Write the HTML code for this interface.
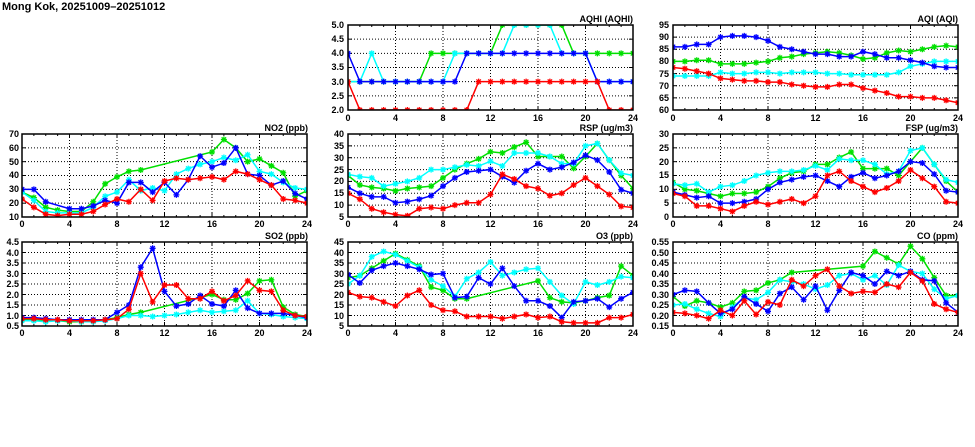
<!DOCTYPE html>
<html><head><meta charset="utf-8"><style>
body{margin:0;width:975px;height:447px;background:#fff;position:relative;overflow:hidden;font-family:"Liberation Sans",sans-serif;font-weight:bold;color:#000}
svg{position:absolute;left:0;top:0}
.t{position:absolute;font-size:11px;white-space:nowrap}
.pt{position:absolute;font-size:9px;white-space:nowrap;text-align:right}
.yl{position:absolute;display:flex;flex-direction:column;justify-content:space-between;width:30px;font-size:9px;text-align:right}
.yl span{height:10px;line-height:10px;display:block}
.xl{position:absolute;display:flex;justify-content:space-between;font-size:9px;height:10px}
.xl span{width:20px;text-align:center;line-height:10px}
</style></head><body>
<div class="t" style="left:2px;top:1px">Mong Kok, 20251009–20251012</div>
<svg id="s" width="975" height="447"></svg>

<!-- AQHI -->
<div class="pt" style="left:533px;top:14px;width:100px">AQHI (AQHI)</div>
<div class="yl" style="left:314px;top:20px;height:95px"><span>5.0</span><span>4.5</span><span>4.0</span><span>3.5</span><span>3.0</span><span>2.5</span><span>2.0</span></div>
<div class="xl" style="left:338px;top:113px;width:305px"><span>0</span><span>4</span><span>8</span><span>12</span><span>16</span><span>20</span><span>24</span></div>
<!-- AQI -->
<div class="pt" style="left:858px;top:14px;width:100px">AQI (AQI)</div>
<div class="yl" style="left:639px;top:20px;height:95px"><span>95</span><span>90</span><span>85</span><span>80</span><span>75</span><span>70</span><span>65</span><span>60</span></div>
<div class="xl" style="left:663px;top:113px;width:305px"><span>0</span><span>4</span><span>8</span><span>12</span><span>16</span><span>20</span><span>24</span></div>
<!-- NO2 -->
<div class="pt" style="left:208px;top:123px;width:100px">NO2 (ppb)</div>
<div class="yl" style="left:-11px;top:129px;height:93px"><span>70</span><span>60</span><span>50</span><span>40</span><span>30</span><span>20</span><span>10</span></div>
<div class="xl" style="left:12px;top:219px;width:305px"><span>0</span><span>4</span><span>8</span><span>12</span><span>16</span><span>20</span><span>24</span></div>
<!-- RSP -->
<div class="pt" style="left:533px;top:123px;width:100px">RSP (ug/m3)</div>
<div class="yl" style="left:314px;top:129px;height:93px"><span>40</span><span>35</span><span>30</span><span>25</span><span>20</span><span>15</span><span>10</span><span>5</span></div>
<div class="xl" style="left:338px;top:219px;width:305px"><span>0</span><span>4</span><span>8</span><span>12</span><span>16</span><span>20</span><span>24</span></div>
<!-- FSP -->
<div class="pt" style="left:858px;top:123px;width:100px">FSP (ug/m3)</div>
<div class="yl" style="left:639px;top:129px;height:93px"><span>30</span><span>25</span><span>20</span><span>15</span><span>10</span><span>5</span><span>0</span></div>
<div class="xl" style="left:663px;top:219px;width:305px"><span>0</span><span>4</span><span>8</span><span>12</span><span>16</span><span>20</span><span>24</span></div>
<!-- SO2 -->
<div class="pt" style="left:208px;top:231px;width:100px">SO2 (ppb)</div>
<div class="yl" style="left:-11px;top:237px;height:94px"><span>4.5</span><span>4.0</span><span>3.5</span><span>3.0</span><span>2.5</span><span>2.0</span><span>1.5</span><span>1.0</span><span>0.5</span></div>
<div class="xl" style="left:12px;top:328px;width:305px"><span>0</span><span>4</span><span>8</span><span>12</span><span>16</span><span>20</span><span>24</span></div>
<!-- O3 -->
<div class="pt" style="left:533px;top:231px;width:100px">O3 (ppb)</div>
<div class="yl" style="left:314px;top:237px;height:94px"><span>45</span><span>40</span><span>35</span><span>30</span><span>25</span><span>20</span><span>15</span><span>10</span><span>5</span></div>
<div class="xl" style="left:338px;top:328px;width:305px"><span>0</span><span>4</span><span>8</span><span>12</span><span>16</span><span>20</span><span>24</span></div>
<!-- CO -->
<div class="pt" style="left:858px;top:231px;width:100px">CO (ppm)</div>
<div class="yl" style="left:639px;top:237px;height:94px"><span>0.55</span><span>0.50</span><span>0.45</span><span>0.40</span><span>0.35</span><span>0.30</span><span>0.25</span><span>0.20</span><span>0.15</span></div>
<div class="xl" style="left:663px;top:328px;width:305px"><span>0</span><span>4</span><span>8</span><span>12</span><span>16</span><span>20</span><span>24</span></div>

<script>
const N=null;
function gap(a){return a;}
const P=[
{x:348,y:25,h:85,min:2,max:5,step:.5,d:{
 g:[3,3,3,3,3,3,3,4,4,4,4,4,4,5,5,5,5,5,5,4,4,4,4,4,4],
 c:[3,3,4,3,3,3,3,3,3,4,4,4,4,4,5,5,5,5,4,4,4,3,3,3,3],
 b:[4,3,3,3,3,3,3,3,3,3,4,4,4,4,4,4,4,4,4,4,4,3,3,3,3],
 r:[3,2,2,2,2,2,2,2,2,2,2,3,3,3,3,3,3,3,3,3,3,3,2,2,2]}},
{x:673,y:25,h:85,min:60,max:95,step:5,d:{
 g:[80,80,80.5,80.5,79,79,79,79.5,80,81.5,82,83,83.5,84,83.5,82.5,81,81.5,83.5,84.5,84,85,86,86.5,86],
 c:[74,74,74,74,75.5,75,75,75.5,75.5,75,75.5,75.5,75.5,75,75,74.5,74.5,74.5,74.5,75.5,78,79,80,80,80],
 b:[86,86,87,87,90,90.5,90.5,90,88.5,86,85,84,83,83,82,82,84,83,81.5,81.5,80.5,79.5,78,77.5,77.5],
 r:[77.5,77,76,75,73,72.5,72,72,71.5,71.5,70.5,70,69.5,69.5,70.5,70.5,69,68,67,65.5,65.5,65,65,64,63]}},
{x:22,y:134,h:83,min:10,max:70,step:10,d:{
 g:[28,24,17,15,14,14,21,34,39,43,44,N,N,N,N,N,57,66,60,50,52,47,42,25,29],
 c:[28,22,14,13,13,13,17,25,28,37,29,31,29,41,45,48,50,53,51,55,43,41,35,31,30],
 b:[30,30,21,N,16,16,18,22,20,35,35,28,35,26,37,54,46,49,60,41,40,33,36,27,23],
 r:[23,17,12,11,12,12,14,19,23,21,30,22,36,38,37,38,39,37,43,41,37,33,23,22,20]}},
{x:348,y:134,h:83,min:5,max:40,step:5,d:{
 g:[22.5,18.5,17.5,17,16,17,17.5,18,21.5,25,27.5,29.5,32.5,32,34.5,36.5,30.5,30.5,30.5,25.5,30.5,36,29,22.5,17],
 c:[23,22,21.5,18,19,20,21.5,25,25,26,27,26.5,28.5,26.5,32,32,32,30.5,27.5,27.5,35,36,29,23.5,22.5],
 b:[17.5,15,13.5,13.5,11,11.5,12.5,14,18,21.5,24,24.5,25,22,19.5,24.5,27.5,25,26,28,31,29,24,16.5,15],
 r:[15,12.5,8.5,7,6,5.5,8.5,9,8.5,10,11,11,14.5,23,21,18,17,14,15,18.5,21.5,18,14.5,9.5,9]}},
{x:673,y:134,h:83,min:0,max:30,step:5,d:{
 g:[12.5,10,9.5,8.5,7.5,8.5,8.5,9,11,14,16,16.5,19,19,21.5,23.5,17.5,17.5,17.5,15,20,25,19,13,9],
 c:[12,11.5,12,9,11,11.5,13,15,16,16.5,16.5,17,18.5,17,21,20.5,20.5,19,15.5,16.5,24,25,19,13.5,12.5],
 b:[9,8,7,7.5,5,5,5.5,6.5,10,12.5,13.5,14.5,15,13,11,14.5,16,14,15,16.5,20,19.5,15.5,9.5,9],
 r:[8.5,7.5,4,4,3,2,4,5.5,4.5,5.5,6.5,5,7.5,15,16.5,13,11,9,10.5,13,17,14,11,5.5,5]}},
{x:22,y:242,h:84,min:.5,max:4.5,step:.5,d:{
 g:[.8,.8,.75,.75,.7,.7,.75,.8,.9,1.05,1.15,N,N,N,N,N,2.0,1.75,1.75,2.05,2.65,2.7,1.4,1.05,.95],
 c:[.75,.75,.7,.75,.75,.7,.7,.75,.85,1.0,1.0,.95,1.0,1.05,1.15,1.25,1.15,1.2,1.25,1.7,1.1,1.05,.95,.9,.85],
 b:[.9,.9,.85,.8,.8,.8,.8,.8,1.15,1.5,3.3,4.2,2.15,1.45,1.55,1.95,1.55,1.45,2.2,1.35,1.1,1.1,1.1,1.0,.9],
 r:[.85,.85,.8,.8,.75,.75,.75,.8,.85,1.3,3.0,1.65,2.45,2.45,1.8,1.8,2.15,1.7,1.95,2.65,2.2,2.15,1.25,1.0,.95]}},
{x:348,y:242,h:84,min:5,max:45,step:5,d:{
 g:[28,29,32.5,36,39.5,36.5,33.5,23.5,22,18,18,N,N,N,N,N,26.5,18.5,16.5,16,17,18.5,19.5,33.5,29],
 c:[25,29,38,40.5,39,36,33,27,24,19,27.5,30.5,35.5,29,30.5,32,32.5,26,19.5,15.5,26,24.5,26,28.5,28],
 b:[29.5,25.5,31.5,33.5,35,33.5,32,29.5,30,18.5,19,28,25,32.5,24,17,17,14.5,9,16.5,17,18,14,18,21],
 r:[21,19,18.5,16.5,14.5,19.5,22,15,12.5,12,9.5,9.5,9.5,8.5,9.5,10.5,9,9.5,7,6.5,6.5,6.5,9,9,10.5]}},
{x:673,y:242,h:84,min:.15,max:.55,step:.05,d:{
 g:[.29,.245,.27,.26,.24,.26,.315,.32,.355,.37,.405,N,N,N,N,N,.435,.505,.475,.445,.53,.47,.38,.295,.295],
 c:[.25,.255,.23,.21,.195,.24,.285,.275,.31,.37,.36,.35,.325,.345,.39,.4,.37,.39,.345,.44,.41,.4,.325,.28,.295],
 b:[.3,.32,.315,.26,.21,.23,.29,.255,.22,.305,.335,.275,.34,.225,.32,.405,.39,.35,.41,.39,.41,.37,.365,.26,.215],
 r:[.215,.21,.2,.185,.225,.2,.27,.205,.265,.25,.37,.34,.39,.42,.34,.305,.315,.31,.35,.335,.405,.365,.255,.23,.215]}}
];
const W=285,col={g:"#00e000",c:"#00ffff",b:"#0000ff",r:"#ff0000"};
let s="";
for(const p of P){
 const X=i=>p.x+i*W/24, Y=v=>p.y+p.h*(p.max-v)/(p.max-p.min);
 const n=Math.round((p.max-p.min)/p.step);
 for(let k=1;k<n;k++){const y=p.y+p.h*k/n;s+=`<line x1="${p.x}" x2="${p.x+W}" y1="${y}" y2="${y}" stroke="#000" stroke-width="1" stroke-dasharray="1,2"/>`;
  s+=`<line x1="${p.x}" x2="${p.x+4}" y1="${y}" y2="${y}" stroke="#000"/><line x1="${p.x+W-4}" x2="${p.x+W}" y1="${y}" y2="${y}" stroke="#000"/>`;}
 for(let i=1;i<24;i++){const x=X(i);
  if(i%4==0)s+=`<line x1="${x}" x2="${x}" y1="${p.y}" y2="${p.y+p.h}" stroke="#000" stroke-width="1" stroke-dasharray="1,2"/>`;
  const t=i%4==0?4:2;
  s+=`<line x1="${x}" x2="${x}" y1="${p.y}" y2="${p.y+t}" stroke="#000"/><line x1="${x}" x2="${x}" y1="${p.y+p.h-t}" y2="${p.y+p.h}" stroke="#000"/>`;}
 s+=`<svg x="${p.x}" y="${p.y}" width="${W}" height="${p.h}" overflow="hidden"><g transform="translate(${-p.x},${-p.y})">`;
 for(const k of ["g","c","b","r"]){
  const a=p.d[k];let pts=[];a.forEach((v,i)=>{if(v!==null)pts.push([X(i),Y(v)])});
  s+=`<polyline fill="none" stroke="${col[k]}" stroke-width="1.5" points="${pts.map(q=>q.join(",")).join(" ")}"/>`;
  for(const [x,y] of pts){const r=3,d=2.2;
   s+=`<path d="M${x-r},${y}H${x+r}M${x},${y-r}V${y+r}M${x-d},${y-d}L${x+d},${y+d}M${x-d},${y+d}L${x+d},${y-d}" stroke="${col[k]}" stroke-width="1.3"/>`;}
 }
 s+=`</g></svg>`;
 s+=`<rect x="${p.x}" y="${p.y}" width="${W}" height="${p.h}" fill="none" stroke="#000" stroke-width="1.5"/>`;
}
document.getElementById("s").innerHTML=s;
</script>
</body></html>
